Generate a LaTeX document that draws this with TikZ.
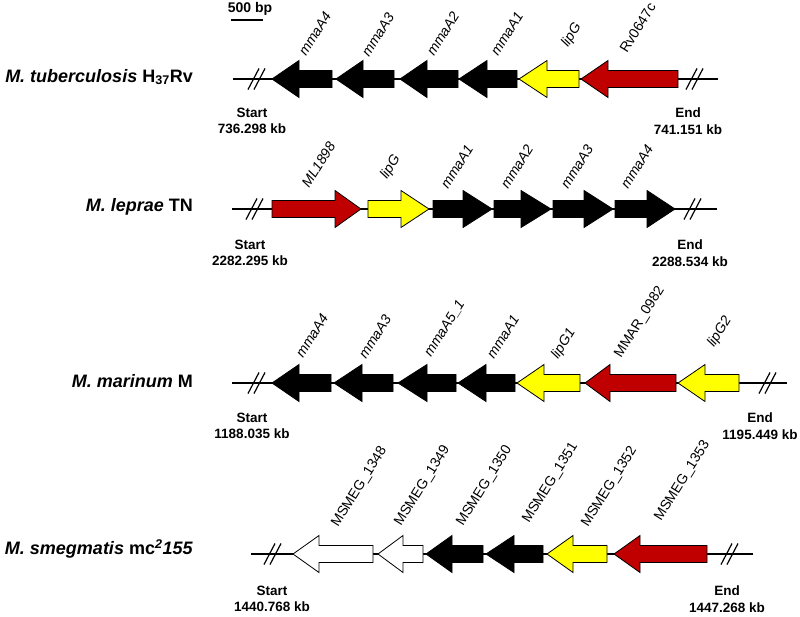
\documentclass[tikz,border=0pt]{standalone}
\usepackage{fontspec}
\setmainfont{Liberation Sans}
\definecolor{genered}{HTML}{C00000}
\definecolor{geneyel}{HTML}{FFFF00}
\tikzset{
 axisline/.style={line width=1.6pt},
 brkline/.style={line width=1.2pt},
 genebox/.style={draw=black, line width=0.8pt, line join=miter},
 glabel/.style={anchor=base west, inner sep=0pt, rotate=58, font=\fontsize{14}{16}\selectfont},
 glabit/.style={glabel, font=\fontsize{14}{16}\selectfont\itshape},
 endlabel/.style={align=center, font=\fontsize{13.5}{16.5}\selectfont\bfseries, inner sep=0pt},
 species/.style={anchor=east, inner sep=0pt, font=\fontsize{18}{20}\selectfont\bfseries}
}
\newcommand\genearrow[5]{%
 \filldraw[genebox, fill=#5] ({#1},{#4}) -- ({#2},{#4-18.5}) -- ({#2},{#4-8.5}) -- ({#3},{#4-8.5}) -- ({#3},{#4+8.5}) -- ({#2},{#4+8.5}) -- ({#2},{#4+18.5}) -- cycle;}
\newcommand\brkmark[2]{%
 \draw[brkline] ({#1-9},{#2+10.5}) -- ({#1+2},{#2-10.5});
 \draw[brkline] ({#1-3},{#2+10.5}) -- ({#1+8},{#2-10.5});}
\begin{document}
\begin{tikzpicture}[x=1pt,y=-1pt]
\useasboundingbox (0,0) rectangle (800,616);
% scale bar
\node[font=\fontsize{14}{16}\selectfont\bfseries, inner sep=0pt] (scale) at (250,8.5) {500 bp};
\coordinate (sbA) at (231,20); \coordinate (sbB) at (263,20);
\draw[line width=1.5pt] (sbA) -- (sbB);

% ---------- Row 1: M. tuberculosis ----------
\node[species] (sp1) at (193,77) {\textit{M. tuberculosis} H\textsubscript{37}Rv};
\coordinate (r1s) at (233,79); \coordinate (r1e) at (718,79);
\draw[axisline] (r1s) -- (r1e);
\brkmark{257}{79}\brkmark{695}{79}
\genearrow{272}{299}{332}{79}{black}
\genearrow{336}{363}{394}{79}{black}
\genearrow{400}{427}{458}{79}{black}
\genearrow{459}{487}{517}{79}{black}
\genearrow{519}{547}{579}{79}{geneyel}
\genearrow{581}{608}{678}{79}{genered}
\node[glabit] (g11) at (306,57) {mmaA4};
\node[glabit] (g12) at (369,58) {mmaA3};
\node[glabit] (g13) at (434,57) {mmaA2};
\node[glabit] (g14) at (498,57) {mmaA1};
\node[glabit] (g15) at (568,48) {lipG};
\node[glabel] (g16) at (627,54) {Rv0647c};
\node[endlabel] (st1) at (252,121) {Start\\736.298 kb};
\node[endlabel] (en1) at (688,121) {End\\741.151 kb};

% ---------- Row 2: M. leprae ----------
\node[species] (sp2) at (193,207) {\textit{M. leprae} TN};
\coordinate (r2s) at (232,209); \coordinate (r2e) at (717,209);
\draw[axisline] (r2s) -- (r2e);
\brkmark{255}{209}\brkmark{693}{209}
\genearrow{361}{335}{272}{209}{genered}
\genearrow{429}{401}{368}{209}{geneyel}
\genearrow{492}{463}{433}{209}{black}
\genearrow{551}{521}{494}{209}{black}
\genearrow{613}{584}{553}{209}{black}
\genearrow{675}{647}{615}{209}{black}
\node[glabit] (g21) at (309,189) {ML1898};
\node[glabit] (g22) at (387,180) {lipG};
\node[glabit] (g23) at (448,190) {mmaA1};
\node[glabit] (g24) at (508,190) {mmaA2};
\node[glabit] (g25) at (568,190) {mmaA3};
\node[glabit] (g26) at (628,190) {mmaA4};
\node[endlabel] (st2) at (250,253) {Start\\2282.295 kb};
\node[endlabel] (en2) at (690,253) {End\\2288.534 kb};

% ---------- Row 3: M. marinum ----------
\node[species] (sp3) at (193,381) {\textit{M. marinum} M};
\coordinate (r3s) at (232,383); \coordinate (r3e) at (787,383);
\draw[axisline] (r3s) -- (r3e);
\brkmark{257}{383}\brkmark{768}{383}
\genearrow{272}{299}{331}{383}{black}
\genearrow{334}{362}{393}{383}{black}
\genearrow{398}{427}{456}{383}{black}
\genearrow{458}{486}{515}{383}{black}
\genearrow{517}{544}{580}{383}{geneyel}
\genearrow{585}{610}{676}{383}{genered}
\genearrow{678}{705}{739}{383}{geneyel}
\node[glabit] (g31) at (303,359) {mmaA4};
\node[glabit] (g32) at (366,360) {mmaA3};
\node[glabit] (g33) at (431,358) {mmaA5\_1};
\node[glabit] (g34) at (494,360) {mmaA1};
\node[glabit] (g35) at (558,360) {lipG1};
\node[glabel] (g36) at (621,359) {MMAR\_0982};
\node[glabit] (g37) at (714,348) {lipG2};
\node[endlabel] (st3) at (252,426) {Start\\1188.035 kb};
\node[endlabel] (en3) at (760,426) {End\\1195.449 kb};

% ---------- Row 4: M. smegmatis ----------
\node[species] (sp4) at (193,549) {\textit{M. smegmatis} mc\textsuperscript{\textit{2}}\textit{155}};
\coordinate (r4s) at (251,554); \coordinate (r4e) at (753,554);
\draw[axisline] (r4s) -- (r4e);
\brkmark{273}{554}\brkmark{730}{554}
\genearrow{293}{319}{373}{554}{white}
\genearrow{378}{403}{423}{554}{white}
\genearrow{426}{452}{483}{554}{black}
\genearrow{486}{514}{543}{554}{black}
\genearrow{547}{573}{607}{554}{geneyel}
\genearrow{614}{640}{707}{554}{genered}
\node[glabel] (g41) at (338,528) {MSMEG\_1348};
\node[glabel] (g42) at (401,527) {MSMEG\_1349};
\node[glabel] (g43) at (463,527) {MSMEG\_1350};
\node[glabel] (g44) at (529,524) {MSMEG\_1351};
\node[glabel] (g45) at (588,528) {MSMEG\_1352};
\node[glabel] (g46) at (661,522) {MSMEG\_1353};
\node[endlabel] (st4) at (272,599) {Start\\1440.768 kb};
\node[endlabel] (en4) at (727,599) {End\\1447.268 kb};
\end{tikzpicture}
\end{document}
